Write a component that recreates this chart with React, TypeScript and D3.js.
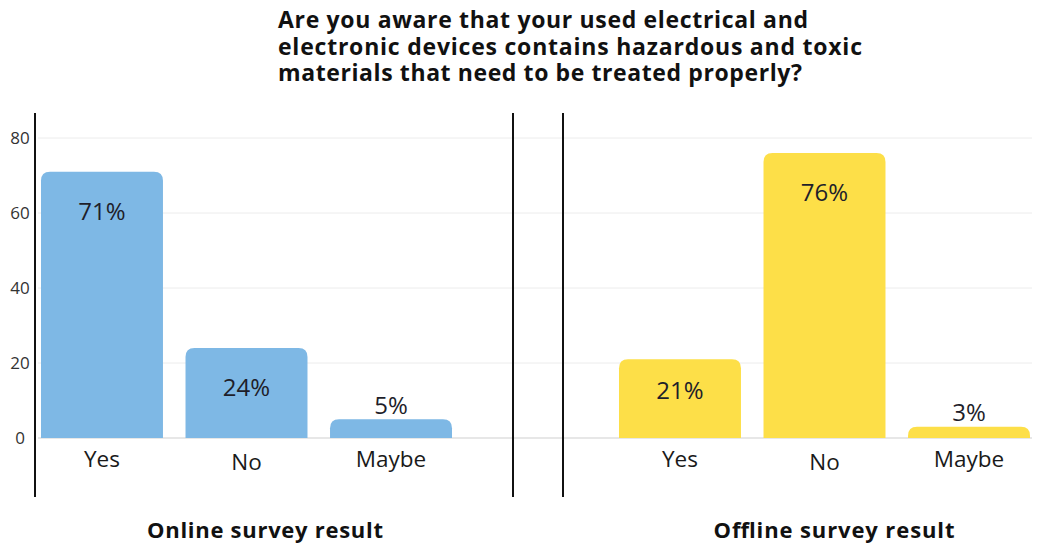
import React from "react";
import * as d3 from "d3";

const categories = ["Yes", "No", "Maybe"];
const onlineValues = [71, 24, 5];
const offlineValues = [21, 76, 3];
const yTicks = [0, 20, 40, 60, 80];
const titleLines = [
  "Are you aware that your used electrical and",
  "electronic devices contains hazardous and toxic",
  "materials that need to be treated properly?",
];
const panelTitles = ["Online survey result", "Offline survey result"];

const W = 1038;
const H = 545;

function roundedTop(x: number, y: number, w: number, h: number, r: number) {
  const rr = Math.min(r, h, w / 2);
  const p = d3.path();
  p.moveTo(x, y + h);
  p.lineTo(x, y + rr);
  p.quadraticCurveTo(x, y, x + rr, y);
  p.lineTo(x + w - rr, y);
  p.quadraticCurveTo(x + w, y, x + w, y + rr);
  p.lineTo(x + w, y + h);
  p.closePath();
  return p.toString();
}

export default function App() {
  const y = d3.scaleLinear().domain([0, 80]).range([438, 138]);
  const xLeft = d3.scaleBand<string>().domain(categories).range([41, 452]).paddingInner(0.156).paddingOuter(0);
  const xRight = d3.scaleBand<string>().domain(categories).range([619, 1030]).paddingInner(0.156).paddingOuter(0);

  const font = "'Open Sans', 'Noto Sans', sans-serif";
  const panels = [
    { x: xLeft, values: onlineValues, color: "#7eb8e5", center: 265, titleLen: 236 },
    { x: xRight, values: offlineValues, color: "#fddf48", center: 834, titleLen: 241 },
  ];
  const inside = [true, true, false];
  const titleLens = [530, 584, 524];

  return (
    <svg width={W} height={H} style={{ position: "absolute", left: 0, top: 0, background: "#fff" }} fontFamily={font}>
      {yTicks.map((t) => (
        <line key={"g" + t} x1={38} x2={1032} y1={y(t)} y2={y(t)} stroke={t === 0 ? "#cfcfcf" : "#ececec"} strokeWidth={1} />
      ))}
      {yTicks.map((t) => (
        <text key={"t" + t} x={20} y={y(t)} dy="0.35em" textAnchor="middle" fontSize={17} fill="#333">
          {t}
        </text>
      ))}
      <line x1={35} x2={35} y1={113} y2={497} stroke="#111" strokeWidth={2} />
      <line x1={513} x2={513} y1={113} y2={497} stroke="#111" strokeWidth={2} />
      <line x1={563} x2={563} y1={113} y2={497} stroke="#111" strokeWidth={2} />

      {panels.map((pn, pi) => (
        <g key={"p" + pi}>
          {categories.map((c, i) => {
            const v = pn.values[i];
            const bx = pn.x(c) as number;
            const bw = pn.x.bandwidth();
            const top = y(v);
            const isIn = inside[i];
            const cx = bx + bw / 2;
            const labelY = isIn ? top + (pi === 1 && i === 0 ? 31 : 40) : top - 14;
            return (
              <g key={c}>
                <path d={roundedTop(bx, top, bw, y(0) - top, 9)} fill={pn.color} />
                <text x={cx} y={labelY} dy="0.35em" textAnchor="middle" fontSize={24} fill="#1e1e2a">
                  {v}%
                </text>
                <text x={cx} y={i === 1 ? 462 : 459} dy="0.35em" textAnchor="middle" fontSize={22.5} fill="#1a1a1a">
                  {c}
                </text>
              </g>
            );
          })}
          <text x={pn.center} y={530} dy="0.35em" textAnchor="middle" fontSize={22} fontWeight={700} fill="#111"
            textLength={pn.titleLen} lengthAdjust="spacing">
            {panelTitles[pi]}
          </text>
        </g>
      ))}

      {titleLines.map((l, i) => (
        <text key={"tl" + i} x={278} y={20 + i * 26.5} dy="0.35em" textAnchor="start" fontSize={23} fontWeight={700} fill="#111"
          textLength={titleLens[i]} lengthAdjust="spacing">
          {l}
        </text>
      ))}
    </svg>
  );
}
